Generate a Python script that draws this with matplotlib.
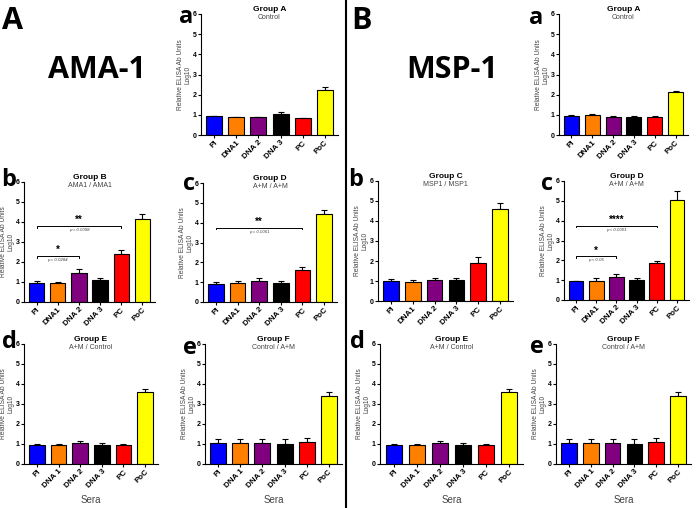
import matplotlib
matplotlib.use("Agg")
import matplotlib.pyplot as plt
import numpy as np

plt.rcParams['font.family'] = ['Liberation Sans', 'DejaVu Sans']

colors = ['#0000ff', '#ff8000', '#800080', '#000000', '#ff0000', '#ffff00']
labels_top = ['PI', 'DNA1', 'DNA 2', 'DNA 3', 'PC', 'PoC']
labels_bot = ['PI', 'DNA 1', 'DNA 2', 'DNA 3', 'PC', 'PoC']

# AMA-1 panels
ama_a = [0.92, 0.87, 0.87, 1.03, 0.82, 2.25]
ama_a_err = [0.03, 0.02, 0.02, 0.12, 0.02, 0.15]
ama_b = [0.93, 0.95, 1.47, 1.12, 2.40, 4.17]
ama_b_err = [0.13, 0.05, 0.20, 0.10, 0.18, 0.22]
ama_c = [0.92, 0.95, 1.05, 0.95, 1.60, 4.45]
ama_c_err = [0.08, 0.13, 0.18, 0.10, 0.17, 0.18]
ama_d = [0.97, 0.93, 1.05, 0.95, 0.93, 3.58]
ama_d_err = [0.05, 0.08, 0.10, 0.10, 0.06, 0.17]
ama_e = [1.05, 1.03, 1.05, 0.98, 1.08, 3.40]
ama_e_err = [0.18, 0.20, 0.18, 0.25, 0.20, 0.22]

# MSP-1 panels
msp_a = [0.92, 0.98, 0.88, 0.87, 0.87, 2.13]
msp_a_err = [0.08, 0.08, 0.06, 0.08, 0.05, 0.07]
msp_b = [1.00, 0.97, 1.05, 1.03, 1.90, 4.60]
msp_b_err = [0.12, 0.07, 0.10, 0.10, 0.30, 0.30]
msp_c = [0.95, 0.97, 1.18, 1.03, 1.87, 5.05]
msp_c_err = [0.03, 0.12, 0.12, 0.07, 0.08, 0.45]
msp_d = [0.97, 0.93, 1.05, 0.93, 0.93, 3.58]
msp_d_err = [0.05, 0.08, 0.10, 0.10, 0.05, 0.17]
msp_e = [1.05, 1.03, 1.05, 0.98, 1.08, 3.40]
msp_e_err = [0.18, 0.20, 0.18, 0.25, 0.20, 0.22]

W, H = 696, 508
fig = plt.figure(figsize=(6.96, 5.08), dpi=100)


def px_axes(x0, y0, x1, y1):
    return fig.add_axes([x0 / W, 1 - y1 / H, (x1 - x0) / W, (y1 - y0) / H])


def draw_panel(rect, vals, errs, labels, title, sub, letter, lpos, sigs=(), sera=False):
    ax = px_axes(*rect)
    hpx = rect[3] - rect[1]
    x = np.arange(len(vals))
    ax.bar(x, vals, width=0.72, color=colors, edgecolor='black', linewidth=0.8, zorder=2)
    ax.errorbar(x, vals, yerr=[np.zeros(len(errs)), errs], fmt='none', ecolor='black',
                elinewidth=0.8, capsize=2.5, capthick=0.8, zorder=1)
    ax.set_xlim(-0.6, 5.6)
    ax.set_ylim(0, 6)
    ax.set_yticks(range(7))
    ax.set_yticklabels([str(i) for i in range(7)], fontsize=5, fontweight='bold')
    ax.set_xticks(x)
    ax.set_xticklabels(labels, rotation=45, ha='right', rotation_mode='anchor',
                       fontsize=5.8, fontweight='bold')
    for s in ['top', 'right']:
        ax.spines[s].set_visible(False)
    ax.spines['left'].set_linewidth(0.8)
    ax.spines['bottom'].set_linewidth(0.8)
    ax.tick_params(length=2, width=0.8, pad=1)
    ax.set_ylabel('Relative ELISA Ab Units\nLog10', fontsize=4.8, color='#444444',
                  linespacing=1.0, labelpad=1)
    ax.text(0.5, 1 + 4.5 / hpx, title, transform=ax.transAxes, ha='center', va='center',
            fontsize=6, fontweight='bold')
    ax.text(0.5, 1 - 3.5 / hpx, sub, transform=ax.transAxes, ha='center', va='center',
            fontsize=5, color='#444444')
    fig.text(lpos[0] / W, 1 - lpos[1] / H, letter, ha='center', va='center',
             fontsize=17, fontweight='bold', family='Open Sans')
    if sera:
        ax.set_xlabel('Sera', fontsize=7, color='#444444', labelpad=4)
    for i0, i1, yv, star, ptxt in sigs:
        ax.plot([i0, i0, i1, i1], [yv - 0.08, yv, yv, yv - 0.08], color='black', lw=0.7)
        ax.text((i0 + i1) / 2, yv + 0.05, star, ha='center', va='bottom',
                fontsize=7, fontweight='bold')
        ax.text((i0 + i1) / 2, yv - 0.1, ptxt, ha='center', va='top',
                fontsize=3.2, color='#444444', style='italic')
    return ax


draw_panel((201, 14, 338, 135), ama_a, ama_a_err, labels_top, 'Group A', 'Control', 'a', (186, 17))
draw_panel((24, 182, 155, 302), ama_b, ama_b_err, labels_top, 'Group B', 'AMA1 / AMA1', 'b', (9, 180),
           sigs=[(0, 4, 3.8, '**', 'p = 0.0098'), (0, 2, 2.3, '*', 'p = 0.0284')])
draw_panel((203, 183, 337, 302), ama_c, ama_c_err, labels_top, 'Group D', 'A+M / A+M', 'c', (189, 184),
           sigs=[(0, 4, 3.75, '**', 'p = 0.0061')])
draw_panel((24, 344, 158, 464), ama_d, ama_d_err, labels_bot, 'Group E', 'A+M / Control', 'd', (9, 342),
           sera=True)
draw_panel((205, 344, 342, 464), ama_e, ama_e_err, labels_bot, 'Group F', 'Control / A+M', 'e', (190, 348),
           sera=True)

draw_panel((559, 14, 688, 135), msp_a, msp_a_err, labels_top, 'Group A', 'Control', 'a', (536, 18))
draw_panel((378, 181, 513, 301), msp_b, msp_b_err, labels_top, 'Group C', 'MSP1 / MSP1', 'b', (356, 180))
draw_panel((564, 181, 689, 300), msp_c, msp_c_err, labels_top, 'Group D', 'A+M / A+M', 'c', (547, 184),
           sigs=[(0, 4, 3.75, '****', 'p < 0.0001'), (0, 2, 2.2, '*', 'p < 0.05')])
draw_panel((380, 344, 523, 464), msp_d, msp_d_err, labels_bot, 'Group E', 'A+M / Control', 'd', (357, 342),
           sera=True)
draw_panel((556, 344, 691, 464), msp_e, msp_e_err, labels_bot, 'Group F', 'Control / A+M', 'e', (537, 347),
           sera=True)

# big labels
fig.text(12 / W, 1 - 21 / H, 'A', ha='center', va='center', fontsize=22,
         fontweight='bold', family='Open Sans')
fig.text(97 / W, 1 - 70 / H, 'AMA-1', ha='center', va='center', fontsize=22,
         fontweight='bold', family='Open Sans')
fig.text(361 / W, 1 - 21 / H, 'B', ha='center', va='center', fontsize=22,
         fontweight='bold', family='Open Sans')
fig.text(452 / W, 1 - 70 / H, 'MSP-1', ha='center', va='center', fontsize=22,
         fontweight='bold', family='Open Sans')

# divider line
fig.add_artist(plt.Line2D([346 / W, 346 / W], [0, 1], color='black', lw=1.5))

fig.savefig('out.png', dpi=100)
